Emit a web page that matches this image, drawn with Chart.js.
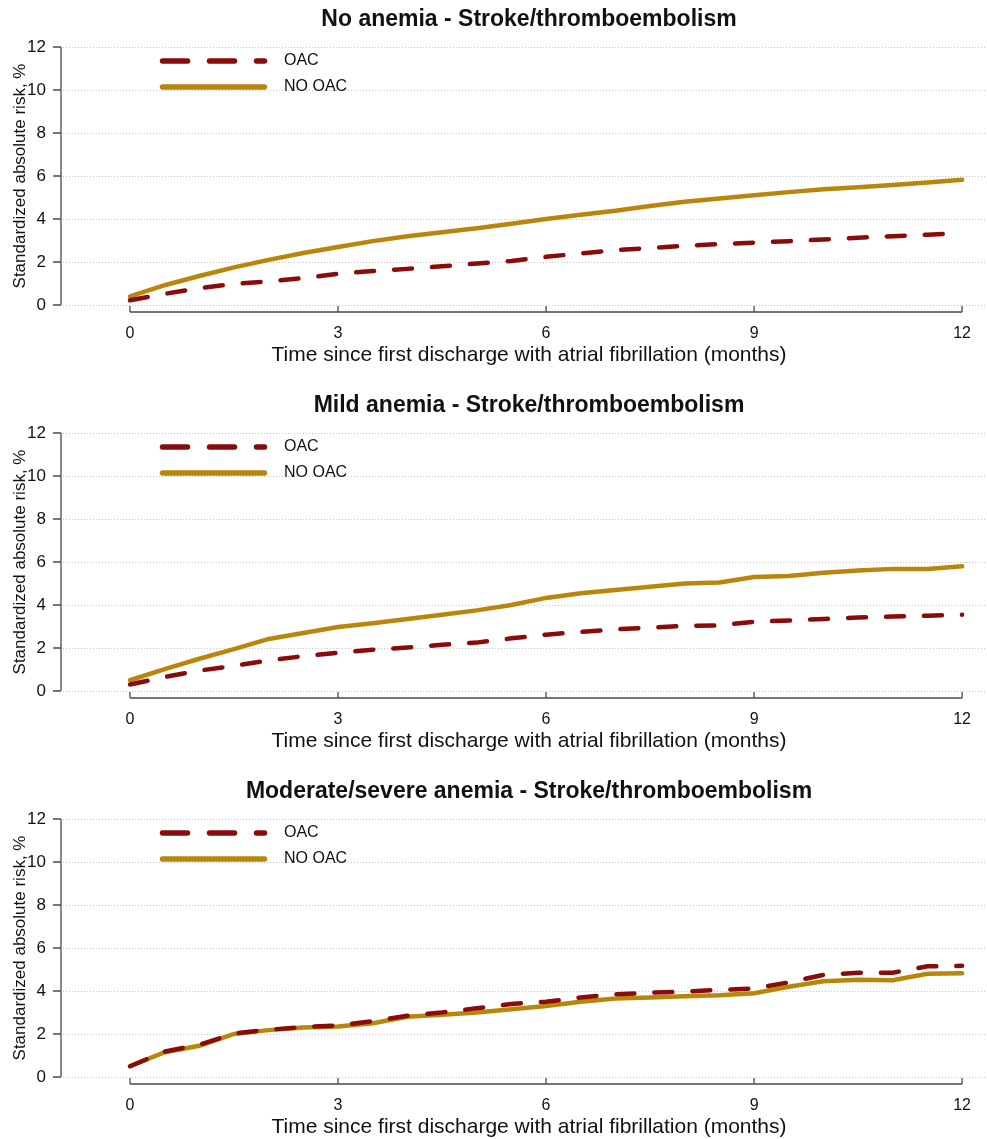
<!DOCTYPE html>
<html>
<head>
<meta charset="utf-8">
<title>Stroke/thromboembolism by anemia status</title>
<script src="https://cdn.jsdelivr.net/npm/chart.js@4.4.1/dist/chart.umd.min.js"></script>
<style>
  html, body { margin: 0; padding: 0; background: #ffffff; overflow: hidden; }
  canvas { display: block; }
</style>
</head>
<body>
<canvas id="panel0" width="987" height="386"></canvas>
<canvas id="panel1" width="987" height="386"></canvas>
<canvas id="panel2" width="987" height="367"></canvas>
<script>
// Months since first discharge (shared time grid for all curves)
const months = [0, 0.5, 1, 1.5, 2, 2.5, 3, 3.5, 4, 4.5, 5, 5.5, 6, 6.5, 7, 7.5, 8, 8.5, 9, 9.5, 10, 10.5, 11, 11.5, 12];

// Panel titles
const panelTitles = [
  "No anemia - Stroke/thromboembolism",
  "Mild anemia - Stroke/thromboembolism",
  "Moderate/severe anemia - Stroke/thromboembolism"
];

// Series names
const seriesNames = ["OAC", "NO OAC"];

// Standardized absolute risk (%) — no anemia
const noAnemiaOAC   = [0.22, 0.52, 0.78, 0.98, 1.10, 1.25, 1.45, 1.58, 1.68, 1.80, 1.93, 2.05, 2.24, 2.40, 2.55, 2.65, 2.75, 2.83, 2.90, 2.97, 3.05, 3.13, 3.20, 3.27, 3.35];
const noAnemiaNoOAC = [0.40, 0.92, 1.35, 1.75, 2.10, 2.42, 2.70, 2.97, 3.20, 3.38, 3.57, 3.78, 4.00, 4.20, 4.38, 4.60, 4.80, 4.95, 5.10, 5.25, 5.38, 5.48, 5.58, 5.70, 5.82];

// Standardized absolute risk (%) — mild anemia
const mildOAC   = [0.30, 0.65, 0.95, 1.17, 1.42, 1.62, 1.78, 1.92, 2.02, 2.15, 2.25, 2.45, 2.62, 2.75, 2.87, 2.95, 3.03, 3.05, 3.22, 3.28, 3.35, 3.42, 3.46, 3.50, 3.55];
const mildNoOAC = [0.50, 1.02, 1.50, 1.95, 2.42, 2.70, 2.98, 3.15, 3.35, 3.55, 3.75, 4.00, 4.33, 4.55, 4.70, 4.85, 5.00, 5.05, 5.30, 5.35, 5.50, 5.60, 5.68, 5.68, 5.80];

// Standardized absolute risk (%) — moderate/severe anemia
const severeOAC   = [0.50, 1.18, 1.50, 2.02, 2.20, 2.32, 2.40, 2.60, 2.85, 3.00, 3.20, 3.40, 3.50, 3.70, 3.85, 3.92, 3.97, 4.05, 4.12, 4.40, 4.75, 4.85, 4.85, 5.15, 5.17];
const severeNoOAC = [0.50, 1.15, 1.45, 2.00, 2.18, 2.30, 2.35, 2.50, 2.80, 2.90, 3.00, 3.15, 3.30, 3.50, 3.65, 3.70, 3.75, 3.80, 3.90, 4.20, 4.45, 4.52, 4.50, 4.80, 4.82];

// Axis ticks
const xTicks = [0, 3, 6, 9, 12];
const yTicks = [0, 2, 4, 6, 8, 10, 12];

const xAxisTitle = "Time since first discharge with atrial fibrillation (months)";
const yAxisTitle = "Standardized absolute risk, %";

const panels = [
  { oac: noAnemiaOAC, noOac: noAnemiaNoOAC },
  { oac: mildOAC,     noOac: mildNoOAC },
  { oac: severeOAC,   noOac: severeNoOAC }
];

const COLOR_OAC = "#8b0a0a";
const COLOR_NOOAC = "#b8860b";
const AXIS_COLOR = "#4a4a4a";
const TEXT_COLOR = "#111111";
const FONT = "'Liberation Sans', Arial, Helvetica, sans-serif";

// Base-graphics style frame: dotted grid, detached axes, legend and title
const baseGraphicsFrame = {
  id: "baseGraphicsFrame",
  beforeDatasetsDraw(chart) {
    const { ctx, chartArea, scales } = chart;
    const y = scales.y;
    ctx.save();
    ctx.strokeStyle = "#c4c4c4";
    ctx.lineWidth = 1;
    ctx.setLineDash([1, 2]);
    yTicks.forEach(v => {
      const py = Math.round(y.getPixelForValue(v)) + 0.5;
      ctx.beginPath();
      ctx.moveTo(chartArea.left, py);
      ctx.lineTo(chartArea.right, py);
      ctx.stroke();
    });
    ctx.restore();
  },
  afterDatasetsDraw(chart, args, opts) {
    const { ctx, chartArea, scales } = chart;
    const x = scales.x, y = scales.y;
    ctx.save();
    ctx.setLineDash([]);
    ctx.strokeStyle = AXIS_COLOR;
    ctx.lineWidth = 1.3;

    // y axis
    const axX = chartArea.left - 2;
    const y0 = y.getPixelForValue(yTicks[0]);
    const y1 = y.getPixelForValue(yTicks[yTicks.length - 1]);
    ctx.beginPath();
    ctx.moveTo(axX, y0);
    ctx.lineTo(axX, y1);
    yTicks.forEach(v => {
      const py = y.getPixelForValue(v);
      ctx.moveTo(axX, py);
      ctx.lineTo(axX - 8, py);
    });
    ctx.stroke();

    ctx.fillStyle = TEXT_COLOR;
    ctx.font = "17px " + FONT;
    ctx.textAlign = "right";
    ctx.textBaseline = "middle";
    yTicks.forEach(v => {
      ctx.fillText(String(v), axX - 15, y.getPixelForValue(v));
    });

    // y axis title
    ctx.save();
    ctx.translate(20, (y0 + y1) / 2);
    ctx.rotate(-Math.PI / 2);
    ctx.textAlign = "center";
    ctx.textBaseline = "middle";
    ctx.fillText(yAxisTitle, 0, 0);
    ctx.restore();

    // x axis
    const axY = chartArea.bottom;
    const x0 = x.getPixelForValue(xTicks[0]);
    const x1 = x.getPixelForValue(xTicks[xTicks.length - 1]);
    ctx.beginPath();
    ctx.moveTo(x0, axY);
    ctx.lineTo(x1, axY);
    xTicks.forEach(v => {
      const px = x.getPixelForValue(v);
      ctx.moveTo(px, axY);
      ctx.lineTo(px, axY - 6);
    });
    ctx.stroke();

    ctx.font = "16px " + FONT;
    ctx.textAlign = "center";
    ctx.textBaseline = "middle";
    xTicks.forEach(v => {
      ctx.fillText(String(v), x.getPixelForValue(v), axY + 22);
    });

    ctx.font = "21px " + FONT;
    ctx.fillText(xAxisTitle, 529, axY + 43);

    // title
    ctx.font = "bold 23px " + FONT;
    ctx.fillText(opts.title, 529, 20);

    // legend
    const legendItems = [
      { label: seriesNames[0], color: COLOR_OAC, dash: [25, 22], yPos: 61 },
      { label: seriesNames[1], color: COLOR_NOOAC, dash: [], yPos: 87 }
    ];
    legendItems.forEach(item => {
      ctx.save();
      ctx.strokeStyle = item.color;
      ctx.lineWidth = 5.5;
      ctx.lineCap = "round";
      ctx.setLineDash(item.dash);
      ctx.beginPath();
      ctx.moveTo(162.5, item.yPos);
      ctx.lineTo(264.5, item.yPos);
      ctx.stroke();
      ctx.restore();
      ctx.fillStyle = TEXT_COLOR;
      ctx.font = "16px " + FONT;
      ctx.textAlign = "left";
      ctx.textBaseline = "middle";
      ctx.fillText(item.label, 284, item.yPos);
    });

    ctx.restore();
  }
};

panels.forEach((p, i) => {
  const canvas = document.getElementById("panel" + i);
  const h = canvas.height;
  new Chart(canvas, {
    type: "line",
    data: {
      datasets: [
        {
          label: seriesNames[0],
          data: months.map((m, k) => ({ x: m, y: p.oac[k] })),
          borderColor: COLOR_OAC,
          borderWidth: 4.5,
          borderDash: [18, 20],
          borderCapStyle: "round",
          pointRadius: 0,
          tension: 0,
          fill: false
        },
        {
          label: seriesNames[1],
          data: months.map((m, k) => ({ x: m, y: p.noOac[k] })),
          borderColor: COLOR_NOOAC,
          borderWidth: 4.5,
          borderCapStyle: "round",
          pointRadius: 0,
          tension: 0,
          fill: false
        }
      ]
    },
    options: {
      responsive: false,
      animation: false,
      events: [],
      layout: { padding: { left: 63, right: 2, top: 47, bottom: h - 312 } },
      scales: {
        x: { type: "linear", min: -0.966, max: 12.33, display: false },
        y: { type: "linear", min: -0.326, max: 12, display: false }
      },
      plugins: {
        legend: { display: false },
        title: { display: false },
        tooltip: { enabled: false },
        baseGraphicsFrame: { title: panelTitles[i] }
      }
    },
    plugins: [baseGraphicsFrame]
  });
});
</script>
</body>
</html>
